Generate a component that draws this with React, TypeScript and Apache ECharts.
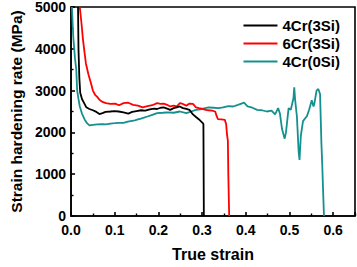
import React, { useEffect, useRef } from "react";
import * as echarts from "echarts";

const seriesNames = ["4Cr(3Si)", "6Cr(3Si)", "4Cr(0Si)"];
const seriesColors = ["#000000", "#ff0000", "#14908f"];

const xTickLabels = ["0.0", "0.1", "0.2", "0.3", "0.4", "0.5", "0.6"];
const yTickLabels = ["0", "1000", "2000", "3000", "4000", "5000"];

const strain4Cr3Si = [0.016, 0.017, 0.019, 0.021, 0.025, 0.03, 0.035, 0.042, 0.05, 0.058, 0.065, 0.072, 0.079, 0.09, 0.1, 0.109, 0.12, 0.131, 0.14, 0.15, 0.16, 0.17, 0.18, 0.19, 0.197, 0.205, 0.212, 0.22, 0.227, 0.235, 0.242, 0.249, 0.256, 0.264, 0.271, 0.279, 0.286, 0.293, 0.298, 0.301, 0.303, 0.304];
const rate4Cr3Si = [5000, 4000, 3300, 2950, 2800, 2700, 2600, 2560, 2530, 2490, 2440, 2460, 2490, 2500, 2510, 2500, 2480, 2450, 2490, 2510, 2530, 2520, 2550, 2570, 2560, 2590, 2600, 2570, 2540, 2580, 2600, 2620, 2580, 2560, 2540, 2430, 2370, 2310, 2260, 2230, 2200, 0];

const strain6Cr3Si = [0.02, 0.024, 0.027, 0.031, 0.034, 0.04, 0.045, 0.05, 0.055, 0.06, 0.065, 0.072, 0.08, 0.09, 0.101, 0.11, 0.12, 0.131, 0.142, 0.153, 0.164, 0.175, 0.186, 0.197, 0.205, 0.212, 0.22, 0.227, 0.235, 0.242, 0.249, 0.256, 0.264, 0.271, 0.279, 0.286, 0.293, 0.301, 0.308, 0.315, 0.323, 0.33, 0.333, 0.336, 0.344, 0.352, 0.355, 0.357, 0.359, 0.36, 0.362];
const rate6Cr3Si = [5000, 4600, 4250, 3900, 3650, 3380, 3200, 3000, 2900, 2850, 2780, 2730, 2700, 2680, 2690, 2650, 2700, 2710, 2660, 2640, 2600, 2630, 2650, 2700, 2680, 2690, 2660, 2620, 2640, 2620, 2700, 2680, 2640, 2690, 2680, 2600, 2580, 2560, 2540, 2530, 2520, 2500, 2400, 2320, 2310, 2300, 2200, 1950, 1800, 1000, 0];

const strain4Cr0Si = [0.002, 0.005, 0.009, 0.012, 0.014, 0.017, 0.02, 0.025, 0.031, 0.036, 0.042, 0.05, 0.06, 0.072, 0.08, 0.09, 0.1, 0.109, 0.12, 0.13, 0.146, 0.153, 0.16, 0.175, 0.186, 0.197, 0.21, 0.22, 0.235, 0.249, 0.264, 0.275, 0.286, 0.3, 0.315, 0.326, 0.337, 0.348, 0.36, 0.371, 0.382, 0.39, 0.396, 0.404, 0.415, 0.426, 0.437, 0.448, 0.459, 0.467, 0.474, 0.478, 0.483, 0.489, 0.492, 0.498, 0.503, 0.509, 0.511, 0.513, 0.517, 0.521, 0.523, 0.526, 0.531, 0.537, 0.54, 0.545, 0.551, 0.555, 0.557, 0.562, 0.566, 0.57, 0.573, 0.575, 0.577, 0.579];
const rate4Cr0Si = [5000, 4300, 3770, 3500, 3000, 2800, 2620, 2450, 2310, 2230, 2170, 2180, 2190, 2200, 2190, 2210, 2220, 2230, 2230, 2260, 2290, 2310, 2330, 2380, 2420, 2460, 2470, 2480, 2470, 2500, 2460, 2500, 2540, 2560, 2600, 2590, 2580, 2600, 2630, 2620, 2660, 2690, 2710, 2620, 2590, 2540, 2530, 2500, 2520, 2430, 2580, 2460, 2080, 1850, 2000, 2580, 2540, 2810, 3080, 2770, 2380, 1540, 1340, 1920, 2270, 2350, 2390, 2540, 2770, 2620, 2690, 3000, 3040, 2920, 1770, 1230, 600, 0];

const seriesStrain = [strain4Cr3Si, strain6Cr3Si, strain4Cr0Si];
const seriesRate = [rate4Cr3Si, rate6Cr3Si, rate4Cr0Si];

const FONT = "'Liberation Sans', Arial, Helvetica, sans-serif";

export default function App() {
  const ref = useRef<HTMLDivElement>(null);
  useEffect(() => {
    if (!ref.current) return;
    const chart = echarts.init(ref.current, undefined, { renderer: "svg" });
    const axisLineStyle = { color: "#000", width: 1.6 };
    chart.setOption({
      animation: false,
      backgroundColor: "#fff",
      grid: {
        left: 61,
        top: 7,
        right: 2,
        bottom: 44,
        show: true,
        borderColor: "#000",
        borderWidth: 1.6,
        backgroundColor: "transparent",
      },
      legend: {
        orient: "vertical",
        right: 17,
        top: 18,
        padding: 0,
        itemWidth: 34,
        itemHeight: 14,
        itemGap: 3,
        symbolKeepAspect: true,
        data: seriesNames.map((name) => ({ name, icon: "path://M0 0H34V2H0Z" })),
        textStyle: { fontFamily: FONT, fontWeight: "bold", fontSize: 15, color: "#000" },
      },
      xAxis: {
        type: "value",
        min: 0,
        max: 0.65,
        interval: 0.1,
        name: "True strain",
        nameLocation: "middle",
        nameGap: 30,
        nameTextStyle: { fontFamily: FONT, fontWeight: "bold", fontSize: 16, color: "#000" },
        axisLine: { show: true, lineStyle: axisLineStyle },
        axisTick: { show: true, inside: true, length: 4, lineStyle: axisLineStyle },
        minorTick: { show: true, splitNumber: 2, length: 2.5, lineStyle: { color: "#000", width: 1.4 } },
        splitLine: { show: false },
        axisLabel: {
          showMaxLabel: false,
          margin: 7,
          lineHeight: 13,
          fontFamily: FONT,
          fontWeight: "bold",
          fontSize: 14,
          color: "#000",
          formatter: (v: number) => {
            const i = Math.round(v * 10);
            return Math.abs(v * 10 - i) < 1e-6 ? xTickLabels[i] ?? "" : "";
          },
        },
      },
      yAxis: {
        type: "value",
        min: 0,
        max: 5000,
        interval: 1000,
        name: "Strain hardening rate (MPa)",
        nameLocation: "middle",
        nameGap: 46,
        nameTextStyle: { fontFamily: FONT, fontWeight: "bold", fontSize: 15.5, color: "#000" },
        axisLine: { show: true, lineStyle: axisLineStyle },
        axisTick: { show: true, inside: true, length: 4, lineStyle: axisLineStyle },
        minorTick: { show: true, splitNumber: 2, length: 2.5, lineStyle: { color: "#000", width: 1.4 } },
        splitLine: { show: false },
        axisLabel: {
          margin: 5,
          lineHeight: 13,
          fontFamily: FONT,
          fontWeight: "bold",
          fontSize: 14,
          color: "#000",
          formatter: (v: number) => yTickLabels[Math.round(v / 1000)] ?? "",
        },
      },
      series: seriesNames.map((name, k) => ({
        name,
        type: "line",
        symbol: "none",
        clip: true,
        data: seriesStrain[k].map((x, i) => [x, seriesRate[k][i]]),
        lineStyle: { color: seriesColors[k], width: 1.8 },
        itemStyle: { color: seriesColors[k] },
        z: k === 2 ? 1 : k === 0 ? 3 : 2,
      })),
    });
    return () => chart.dispose();
  }, []);
  return (
    <div
      ref={ref}
      style={{ position: "fixed", left: 0, top: 0, width: 357, height: 267, background: "#fff" }}
    />
  );
}
